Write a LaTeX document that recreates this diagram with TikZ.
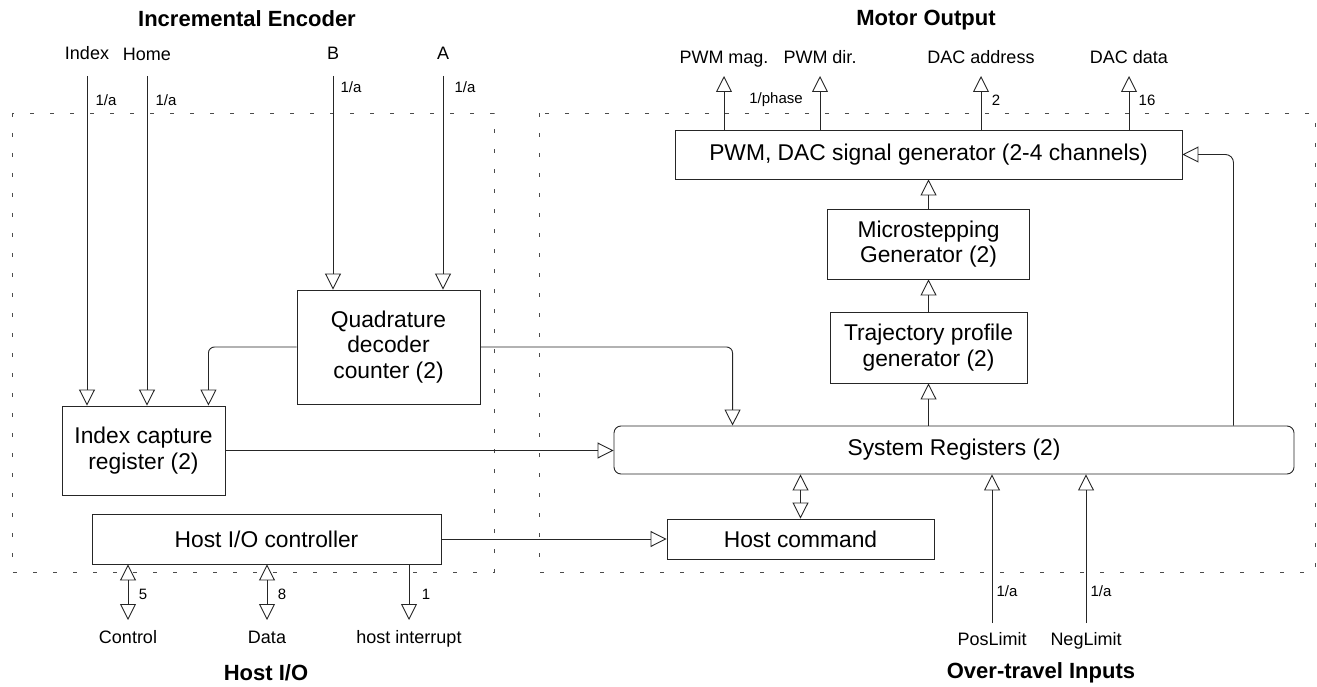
\documentclass[tikz,border=0pt]{standalone}
\usepackage{fontspec}
\setmainfont{Liberation Sans}
\usetikzlibrary{arrows.meta}

\begin{document}
\begin{tikzpicture}[x=1pt,y=-1pt,
  blk/.style={draw=black!85,line width=0.9pt,fill=white,align=center,inner sep=0pt,
    font=\fontsize{22.8}{25.8}\selectfont},
  ttl/.style={inner sep=0pt,font=\fontsize{22}{26}\selectfont\bfseries},
  sig/.style={inner sep=0pt,text height=13pt,text depth=4pt,font=\fontsize{18}{21}\selectfont},
  wid/.style={inner sep=0pt,font=\fontsize{15}{18}\selectfont},
  bus/.style={line width=0.9pt,draw=black!85,-{Triangle[open,length=16pt,width=16pt]}},
  bbus/.style={line width=0.9pt,draw=black!85,
    {Triangle[open,length=16pt,width=16pt]}-{Triangle[open,length=16pt,width=16pt]}},
  zone/.style={draw=black!70,line width=0.9pt,dash pattern=on 4pt off 16pt}]
\useasboundingbox (0,0) rectangle (1317,687);
\draw[zone] (12,113) rectangle (494,572);
\draw[zone] (539,113) rectangle (1315,572);
\path (247,19) node[ttl] (encttl) {Incremental Encoder}
      (926,20) node[ttl] (motttl) {Motor Output}
      (266,673) node[ttl] (hostttl) {Host I/O}
      (1041,673) node[ttl] (travttl) {Over-travel Inputs};
\path (87,55) node[sig] (index) {Index}
      (147,56) node[sig] (home) {Home}
      (333,55) node[sig] (encb) {B}
      (443,55) node[sig] (enca) {A}
      (724,59) node[sig] (pwmmag) {PWM mag.}
      (820,59) node[sig] (pwmdir) {PWM dir.}
      (981,59) node[sig] (dacadr) {DAC address}
      (1129,59) node[sig] (dacdat) {DAC data}
      (128,639) node[sig] (ctrl) {Control}
      (267,639) node[sig] (data) {Data}
      (409,639) node[sig] (hint) {host interrupt}
      (992,641) node[sig] (poslim) {PosLimit}
      (1086,641) node[sig] (neglim) {NegLimit};
\path (388.5,347) node[blk,minimum width=183pt,minimum height=114pt] (quad) {Quadrature\\decoder\\counter (2)}
      (143.5,450.5) node[blk,minimum width=163pt,minimum height=89pt] (icr) {Index capture\\register (2)}
      (266.5,539) node[blk,minimum width=349pt,minimum height=50pt] (hio) {Host I/O controller}
      (928.5,154.5) node[blk,minimum width=507pt,minimum height=49pt] (pwm) {PWM, DAC signal generator (2-4 channels)}
      (928.5,244) node[blk,minimum width=202pt,minimum height=70pt] (micro) {Microstepping\\Generator (2)}
      (928.5,347.5) node[blk,minimum width=197pt,minimum height=71pt] (traj) {Trajectory profile\\generator (2)}
      (954,450) node[blk,rounded corners=7pt,minimum width=680pt,minimum height=48pt] (sysreg) {System Registers (2)}
      (800.5,539) node[blk,minimum width=267pt,minimum height=40pt] (hcmd) {Host command};
\path (106,100) node[wid] (wind) {1/a}
      (166,100) node[wid] (whome) {1/a}
      (351,87) node[wid] (wb) {1/a}
      (465,87) node[wid] (wa) {1/a}
      (776,100) node[wid] (wphase) {1/phase}
      (996,100) node[wid] (wadr) {2}
      (1147,100) node[wid] (wdat) {16}
      (143,594) node[wid] (wctrl) {5}
      (282,594) node[wid] (wdata) {8}
      (426,594) node[wid] (whint) {1}
      (1007,591) node[wid] (wpos) {1/a}
      (1101,591) node[wid] (wneg) {1/a};
\coordinate (toprow) at (0,76);
\coordinate (botrow) at (0,620);
\coordinate (limrow) at (0,623);
\draw[bus] (index |- toprow) -- (index |- icr.north);
\draw[bus] (home |- toprow) -- (home |- icr.north);
\draw[bus] (encb |- toprow) -- (encb |- quad.north);
\draw[bus] (enca |- toprow) -- (enca |- quad.north);
\draw[bus,rounded corners=6pt] (quad.west) -| ([xshift=-17pt]icr.north east);
\draw[bus,rounded corners=6pt] (quad.east) -| ([xshift=119pt]sysreg.north west);
\draw[bus] (icr.east) -- (icr.east -| sysreg.west);
\draw[bus] (hio.east) -- (hcmd.west);
\draw[bbus] (hcmd.north) -- (hcmd.north |- sysreg.south);
\draw[bus] (traj.south |- sysreg.north) -- (traj.south);
\draw[bus] (traj.north) -- (micro.south);
\draw[bus] (micro.north) -- (pwm.south);
\draw[bus,rounded corners=8pt] ([xshift=-61pt]sysreg.north east) |- (pwm.east);
\draw[bus] (pwm.north -| pwmmag) -- (pwmmag |- toprow);
\draw[bus] (pwm.north -| pwmdir) -- (pwmdir |- toprow);
\draw[bus] (pwm.north -| dacadr) -- (dacadr |- toprow);
\draw[bus] (pwm.north -| dacdat) -- (dacdat |- toprow);
\draw[bbus] (hio.south -| ctrl) -- (ctrl |- botrow);
\draw[bbus] (hio.south -| data) -- (data |- botrow);
\draw[bus] (hio.south -| hint) -- (hint |- botrow);
\draw[bus] (poslim |- limrow) -- (poslim |- sysreg.south);
\draw[bus] (neglim |- limrow) -- (neglim |- sysreg.south);
\end{tikzpicture}
\end{document}
